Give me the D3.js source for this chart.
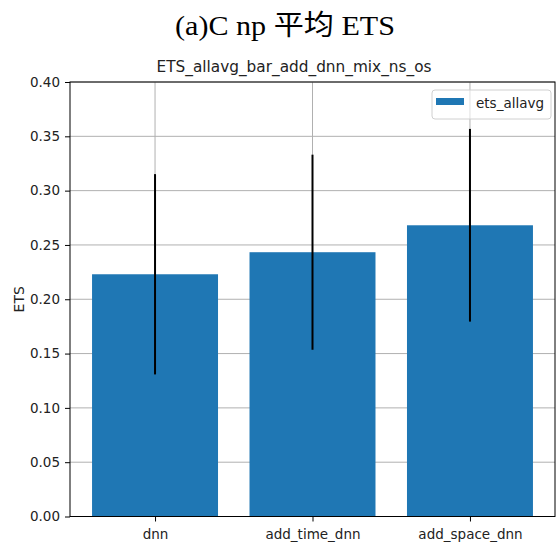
<!DOCTYPE html>
<html>
<head>
<meta charset="utf-8">
<script src="https://cdn.jsdelivr.net/npm/d3@7/dist/d3.min.js"></script>
<style>
  body { margin: 0; background: #fff; }
  svg { display: block; }
</style>
</head>
<body>
<div id="chart"></div>
<script>
let w = 556;
let h = 542;

// data
let categories = ["dnn", "add_time_dnn", "add_space_dnn"];
let etsMean = [0.223, 0.2433, 0.2681];
let etsErr = [0.0922, 0.0898, 0.0887];
let yTicks = [0, 0.05, 0.10, 0.15, 0.20, 0.25, 0.30, 0.35, 0.40];

let padLeft = 70;
let padRight = 555;
let padTop = 82;
let padBottom = 516.5;

let svg = d3.select("#chart")
  .append("svg")
    .attr("width", w)
    .attr("height", h);

// matplotlib style x scale: bar width 0.8, 5% margins
let xScale = d3.scaleLinear().domain([-0.54, 2.54]).range([padLeft, padRight]);
let yScale = d3.scaleLinear().domain([0, 0.4]).range([padBottom, padTop]);
let barW = xScale(0.8) - xScale(0);

// grid
let grid = svg.append("g").attr("class", "grid");
grid.selectAll(".hgrid").data(yTicks).enter()
  .append("line")
    .attr("x1", padLeft).attr("x2", padRight)
    .attr("y1", d => yScale(d)).attr("y2", d => yScale(d))
    .attr("stroke", "#b0b0b0").attr("stroke-width", 1);
grid.selectAll(".vgrid").data(categories).enter()
  .append("line")
    .attr("x1", (d, i) => xScale(i)).attr("x2", (d, i) => xScale(i))
    .attr("y1", padTop).attr("y2", padBottom)
    .attr("stroke", "#b0b0b0").attr("stroke-width", 1);

// bars
svg.selectAll(".bar").data(etsMean).enter()
  .append("rect")
    .attr("class", "bar")
    .attr("x", (d, i) => xScale(i) - barW / 2)
    .attr("y", d => yScale(d))
    .attr("width", barW)
    .attr("height", d => padBottom - yScale(d))
    .attr("fill", "#1f77b4");

// error bars
svg.selectAll(".err").data(etsMean).enter()
  .append("line")
    .attr("x1", (d, i) => xScale(i)).attr("x2", (d, i) => xScale(i))
    .attr("y1", (d, i) => yScale(d - etsErr[i]))
    .attr("y2", (d, i) => yScale(d + etsErr[i]))
    .attr("stroke", "black").attr("stroke-width", 2);

// axes
let yAxis = d3.axisLeft(yScale).tickValues(yTicks).tickFormat(d3.format(".2f")).tickSize(5).tickPadding(5);
let yAxisGroup = svg.append("g").attr("transform", "translate(" + padLeft + ",0)").call(yAxis);
yAxisGroup.selectAll(".tick text")
  .attr("font-family", "DejaVu Sans")
  .attr("font-size", "13.5px")
  .attr("fill", "#222");

let xAxis = d3.axisBottom(xScale)
  .tickValues([0, 1, 2]).tickFormat((d) => categories[d]).tickSize(5).tickPadding(8);
let xAxisGroup = svg.append("g").attr("transform", "translate(0," + padBottom + ")").call(xAxis);
xAxisGroup.selectAll(".tick text")
  .attr("font-family", "DejaVu Sans")
  .attr("font-size", "13.5px")
  .attr("fill", "#222");

svg.selectAll(".domain").remove();

// spines
svg.append("rect")
  .attr("x", padLeft).attr("y", padTop)
  .attr("width", padRight - padLeft).attr("height", padBottom - padTop)
  .attr("fill", "none").attr("stroke", "black").attr("stroke-width", 1);

// y label
svg.append("text")
  .attr("transform", "translate(24," + ((padTop + padBottom) / 2) + ") rotate(-90)")
  .attr("text-anchor", "middle")
  .attr("font-family", "DejaVu Sans")
  .attr("font-size", "14px")
  .attr("fill", "#222")
  .text("ETS");

// legend
let legend = svg.append("g").attr("transform", "translate(432,90)");
legend.append("rect")
  .attr("width", 119).attr("height", 29).attr("rx", 3)
  .attr("fill", "white").attr("fill-opacity", 0.6)
  .attr("stroke", "#d0d0d0");
legend.append("rect")
  .attr("x", 4).attr("y", 8).attr("width", 28).attr("height", 7)
  .attr("fill", "#1f77b4");
legend.append("text")
  .attr("x", 44).attr("y", 18)
  .attr("font-family", "DejaVu Sans")
  .attr("font-size", "13.5px")
  .attr("fill", "#222")
  .text("ets_allavg");

// titles
svg.append("text")
  .attr("x", 294).attr("y", 72)
  .attr("text-anchor", "middle")
  .attr("font-family", "DejaVu Sans")
  .attr("font-size", "15px")
  .attr("textLength", 275)
  .attr("lengthAdjust", "spacingAndGlyphs")
  .attr("fill", "#222")
  .text("ETS_allavg_bar_add_dnn_mix_ns_os");

svg.append("text")
  .attr("x", 285).attr("y", 35)
  .attr("text-anchor", "middle")
  .attr("font-family", "'Liberation Serif', 'Noto Sans CJK SC', serif")
  .attr("font-size", "28px")
  .attr("textLength", 220)
  .attr("lengthAdjust", "spacingAndGlyphs")
  .attr("fill", "black")
  .text("(a)C np 平均 ETS");
</script>
</body>
</html>
